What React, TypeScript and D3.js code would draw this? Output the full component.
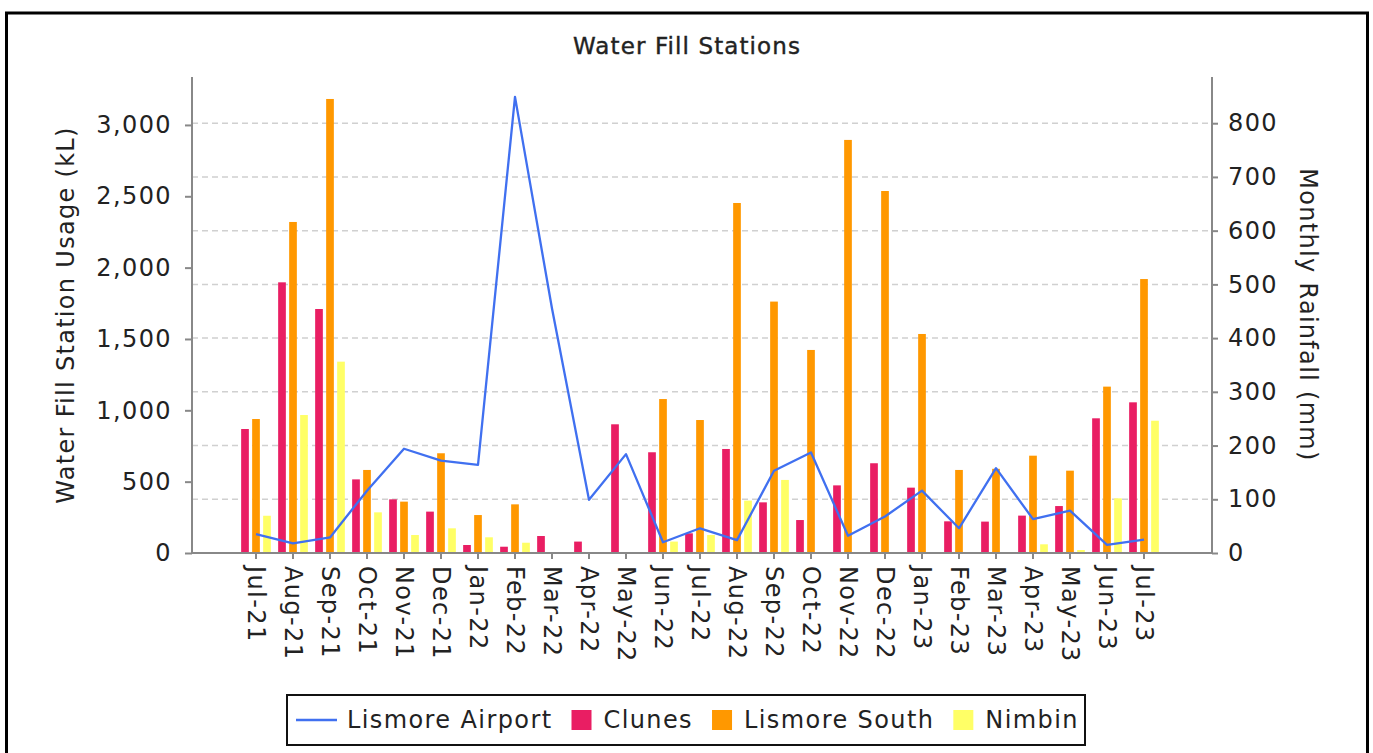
import React, { useEffect, useRef } from "react";
import * as d3 from "d3";

const months = [
  "Jul-21", "Aug-21", "Sep-21", "Oct-21", "Nov-21", "Dec-21", "Jan-22", "Feb-22", "Mar-22",
  "Apr-22", "May-22", "Jun-22", "Jul-22", "Aug-22", "Sep-22", "Oct-22", "Nov-22", "Dec-22",
  "Jan-23", "Feb-23", "Mar-23", "Apr-23", "May-23", "Jun-23", "Jul-23"
];

// water fill station usage (kL)
const clunes = [869, 1897, 1710, 516, 376, 290, 56, 44, 119, 80, 902, 706, 138, 729, 355, 231, 474, 629, 458, 222, 220, 262, 329, 944, 1056];
const lismoreSouth = [939, 2320, 3182, 582, 360, 699, 266, 341, 0, 0, 0, 1079, 932, 2453, 1762, 1423, 2895, 2537, 1535, 582, 590, 682, 577, 1166, 1920];
const nimbin = [261, 967, 1341, 285, 126, 173, 110, 72, 0, 0, 0, 80, 126, 367, 512, 0, 0, 0, 0, 0, 0, 61, 21, 383, 927];

// monthly rainfall (mm)
const lismoreAirport = [35, 18, 29, 116, 194, 172, 164, 849, 455, 99, 184, 20, 46, 24, 153, 187, 32, 68, 116, 46, 158, 63, 79, 15, 25];

const leftTicks = [0, 500, 1000, 1500, 2000, 2500, 3000];
const rightTicks = [0, 100, 200, 300, 400, 500, 600, 700, 800];

const barSeries = [
  { name: "Clunes", values: clunes, color: "#e91e63" },
  { name: "Lismore South", values: lismoreSouth, color: "#ff9800" },
  { name: "Nimbin", values: nimbin, color: "#ffff66" }
];
const lineColor = "#4070f0";

const FONT = "'DejaVu Sans', Verdana, sans-serif";

export default function App() {
  const ref = useRef(null);

  useEffect(() => {
    const svg = d3.select(ref.current);
    svg.selectAll("*").remove();

    const left = 192, right = 1212, top = 77, bottom = 553;

    const x = d3.scaleBand().domain(months).range([237.5, 1162.5]);
    const inner = d3.scaleBand().domain(barSeries.map(s => s.name)).range([0, 29.7]).paddingInner(0.3);
    const yL = d3.scaleLinear().domain([0, 3336]).range([bottom, top]);
    const yR = d3.scaleLinear().domain([0, 886]).range([bottom, top]);
    const cx = m => x(m) + x.bandwidth() / 2;

    // frame
    svg.append("rect")
      .attr("x", 6.5).attr("y", 13).attr("width", 1361).attr("height", 780)
      .attr("fill", "white").attr("stroke", "black").attr("stroke-width", 3);

    svg.append("text")
      .attr("x", 687).attr("y", 54)
      .attr("text-anchor", "middle")
      .style("font-family", FONT).style("font-size", "23px")
      .style("letter-spacing", "1.1px")
      .attr("fill", "#222").attr("stroke", "#222").attr("stroke-width", 0.4)
      .text("Water Fill Stations");

    // grid lines from the rainfall axis
    svg.append("g").selectAll("line")
      .data(rightTicks.filter(t => t > 0))
      .enter().append("line")
      .attr("x1", left).attr("x2", right)
      .attr("y1", d => yR(d)).attr("y2", d => yR(d))
      .attr("stroke", "#d0d0d0").attr("stroke-width", 1.5)
      .attr("stroke-dasharray", "6,4");

    // bars
    barSeries.forEach(s => {
      svg.append("g").selectAll("rect")
        .data(s.values.map((v, i) => ({ m: months[i], v })).filter(d => d.v > 0))
        .enter().append("rect")
        .attr("x", d => cx(d.m) - 14.85 + inner(s.name))
        .attr("y", d => yL(d.v))
        .attr("width", inner.bandwidth())
        .attr("height", d => bottom - yL(d.v))
        .attr("fill", s.color);
    });

    // rainfall line
    const line = d3.line()
      .x((d, i) => cx(months[i]))
      .y(d => yR(d));
    svg.append("path")
      .datum(lismoreAirport)
      .attr("d", line)
      .attr("fill", "none")
      .attr("stroke", lineColor)
      .attr("stroke-width", 2.3)
      .attr("stroke-linejoin", "round");

    const styleAxis = (g, size) => {
      g.select(".domain").remove();
      g.selectAll("line").attr("stroke", "#888").attr("stroke-width", 2);
      g.selectAll("text")
        .attr("fill", "#222")
        .style("font-family", FONT)
        .style("font-size", size)
        .style("letter-spacing", "1.4px");
    };

    // left axis
    const gL = svg.append("g")
      .attr("transform", `translate(${left},0)`)
      .call(d3.axisLeft(yL).tickValues(leftTicks).tickFormat(d3.format(",")).tickSize(7).tickPadding(13));
    styleAxis(gL, "24px");

    // right axis
    const gR = svg.append("g")
      .attr("transform", `translate(${right},0)`)
      .call(d3.axisRight(yR).tickValues(rightTicks).tickSize(6).tickPadding(10));
    styleAxis(gR, "24px");

    // x axis
    const gX = svg.append("g")
      .attr("transform", `translate(0,${bottom})`)
      .call(d3.axisBottom(x).tickSize(6).tickPadding(0));
    styleAxis(gX, "24px");
    gX.selectAll("text")
      .attr("transform", "rotate(90)")
      .attr("x", 13).attr("y", 0).attr("dy", "0.35em")
      .attr("text-anchor", "start");

    // axis lines
    [[left, top, left, bottom], [right, top, right, bottom], [left, bottom, right, bottom]].forEach(([x1, y1, x2, y2]) => {
      svg.append("line")
        .attr("x1", x1).attr("y1", y1).attr("x2", x2).attr("y2", y2)
        .attr("stroke", "#888").attr("stroke-width", 2);
    });

    // axis titles
    svg.append("text")
      .attr("transform", "translate(66,315) rotate(-90)")
      .attr("text-anchor", "middle").attr("dy", "0.35em")
      .style("font-family", FONT).style("font-size", "24px").style("letter-spacing", "1.3px")
      .attr("fill", "#222")
      .text("Water Fill Station Usage (kL)");

    svg.append("text")
      .attr("transform", "translate(1308,315) rotate(90)")
      .attr("text-anchor", "middle").attr("dy", "0.35em")
      .style("font-family", FONT).style("font-size", "24px").style("letter-spacing", "1.3px")
      .attr("fill", "#222")
      .text("Monthly Rainfall (mm)");

    // legend
    const legend = svg.append("g");
    legend.append("rect")
      .attr("x", 287).attr("y", 695).attr("width", 798).attr("height", 50)
      .attr("fill", "white").attr("stroke", "#111").attr("stroke-width", 2);

    const items = [{ name: "Lismore Airport", color: lineColor, type: "line" }]
      .concat(barSeries.map(s => ({ name: s.name, color: s.color, type: "rect" })));
    let cur = 296;
    items.forEach(it => {
      if (it.type === "line") {
        legend.append("line")
          .attr("x1", cur).attr("x2", cur + 41).attr("y1", 720).attr("y2", 720)
          .attr("stroke", it.color).attr("stroke-width", 2.5);
        cur += 51;
      } else {
        legend.append("rect")
          .attr("x", cur).attr("y", 710).attr("width", 20).attr("height", 20)
          .attr("fill", it.color);
        cur += 32;
      }
      const t = legend.append("text")
        .attr("x", cur).attr("y", 720).attr("dy", "0.35em")
        .style("font-family", FONT).style("font-size", "24px").style("letter-spacing", "1.4px")
        .attr("fill", "#222")
        .text(it.name);
      cur += t.node().getComputedTextLength() + 19;
    });
  }, []);

  return (
    <svg
      ref={ref}
      width={1373}
      height={753}
      style={{ position: "absolute", left: 0, top: 0, background: "white" }}
    />
  );
}
